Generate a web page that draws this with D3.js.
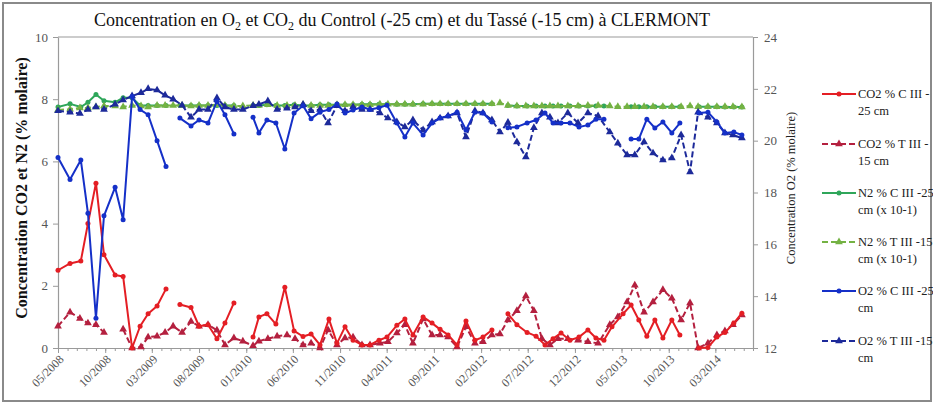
<!DOCTYPE html>
<html>
<head>
<meta charset="utf-8">
<script src="https://cdn.jsdelivr.net/npm/d3@7"></script>
<style>
  body { margin: 0; background: #fff; }
  svg { display: block; }
  text { font-family: "Liberation Serif", "Times New Roman", serif; }
</style>
</head>
<body>
<svg id="chart" width="933" height="403"></svg>
<script>
// ---- Control plot (-25 cm): sampling dates and measured concentrations ----
const datesC = ["2008-05-01","2008-06-09","2008-07-14","2008-08-06","2008-09-01","2008-09-27","2008-11-02","2008-11-28","2008-12-27","2009-01-22",
  "2009-02-17","2009-03-18","2009-04-16","2009-05-09","2009-05-31","2009-07-06","2009-08-01","2009-08-30","2009-09-28","2009-10-24",
  "2009-11-22","2009-12-21","2010-01-23","2010-02-11","2010-03-09","2010-04-07","2010-05-06","2010-06-05","2010-07-04","2010-07-30",
  "2010-08-28","2010-09-26","2010-10-22","2010-11-17","2010-12-13","2011-01-11","2011-02-06","2011-03-07","2011-04-02","2011-05-04",
  "2011-05-30","2011-06-25","2011-07-28","2011-08-26","2011-09-21","2011-10-17","2011-11-15","2011-12-14","2012-01-12","2012-02-07",
  "2012-03-07","2012-04-02","2012-04-28","2012-05-27","2012-06-29","2012-07-28","2012-08-26","2012-09-21","2012-10-17","2012-11-15",
  "2012-12-14","2013-01-12","2013-02-07","2013-03-05","2013-03-31","2013-05-06","2013-06-01","2013-06-26","2013-07-22","2013-08-17",
  "2013-09-12","2013-10-11","2013-11-06","2013-12-09","2014-01-07","2014-02-05","2014-03-06","2014-04-01","2014-04-30","2014-05-26"];
const co2C = [2.5,2.72,2.8,4.0,5.3,3.0,2.35,2.3,0.0,0.7,
  1.1,1.35,1.9,null,1.4,1.3,0.7,0.75,0.3,0.8,
  1.45,null,0.35,1.0,1.1,0.77,1.95,0.55,0.37,0.45,
  0.1,0.93,0.15,0.68,0.25,0.1,0.1,0.25,0.35,0.73,
  0.93,0.42,1.0,0.8,0.6,0.42,0.1,0.87,0.25,0.35,
  0.58,null,1.1,0.75,0.5,0.38,0.1,0.3,0.48,0.25,
  0.35,0.58,0.32,0.25,0.68,1.1,1.38,0.9,0.38,0.9,
  0.32,0.9,0.42,null,0.0,0.02,0.35,0.5,0.8,1.12];
const n2C = [7.75,7.85,7.75,7.9,8.15,7.95,7.9,8.05,8.05,7.8,
  7.8,7.8,7.8,null,7.8,7.8,7.8,7.8,7.8,7.8,
  7.8,null,7.8,7.8,7.82,7.8,7.8,7.82,7.8,7.8,
  7.82,7.82,7.82,7.82,7.82,7.84,7.84,7.84,7.84,7.84,
  7.84,7.84,7.85,7.85,7.85,7.85,7.85,7.85,7.85,7.85,
  7.85,null,7.8,7.78,7.78,7.78,7.78,7.78,7.78,7.78,
  7.78,7.78,7.78,7.78,null,null,7.76,7.76,7.76,7.76,
  7.76,7.76,7.76,null,7.76,7.76,7.76,7.75,7.75,7.75];
const o2C = [19.35,18.5,19.25,17.2,13.15,17.1,18.2,16.95,21.7,21.2,
  21.0,20.0,19.0,null,20.87,20.57,20.8,20.68,21.53,21.0,
  20.26,null,20.9,20.3,20.8,20.68,19.68,21.07,21.35,20.85,
  21.1,21.2,21.41,21.07,21.18,21.3,21.2,21.27,21.37,20.68,
  20.14,20.68,20.22,20.68,20.87,20.95,21.1,20.41,21.1,21.07,
  20.72,null,20.5,20.53,20.68,20.8,21.07,20.68,20.68,20.68,
  20.53,20.6,20.83,20.83,null,null,20.06,20.06,20.83,20.49,
  20.72,20.3,20.68,null,21.07,21.1,20.72,20.3,20.33,20.22];

// ---- Compacted plot (-15 cm) ----
const datesT = ["2008-05-01","2008-06-09","2008-07-11","2008-08-06","2008-09-01","2008-09-27","2008-11-02","2008-11-28","2008-12-27","2009-01-25",
  "2009-02-17","2009-03-18","2009-04-13","2009-05-09","2009-06-07","2009-07-06","2009-08-01","2009-08-30","2009-09-28","2009-10-24",
  "2009-11-22","2009-12-21","2010-01-23","2010-02-11","2010-03-12","2010-04-11","2010-05-13","2010-06-08","2010-07-04","2010-07-30",
  "2010-08-28","2010-09-23","2010-10-22","2010-11-17","2010-12-13","2011-01-11","2011-02-06","2011-03-10","2011-04-05","2011-05-04",
  "2011-05-30","2011-06-25","2011-07-28","2011-08-26","2011-09-21","2011-10-17","2011-11-15","2011-12-14","2012-01-12","2012-02-07",
  "2012-03-07","2012-04-02","2012-04-28","2012-05-27","2012-06-25","2012-07-21","2012-08-16","2012-09-11","2012-10-07","2012-11-08",
  "2012-12-11","2013-01-12","2013-02-14","2013-03-24","2013-04-19","2013-05-19","2013-06-13","2013-07-13","2013-08-11","2013-09-12",
  "2013-10-11","2013-11-10","2013-12-09","2014-01-04","2014-02-05","2014-03-06","2014-04-01","2014-04-27","2014-05-26"];
const co2T = [0.7,1.15,0.95,0.8,0.75,0.5,null,0.6,0.0,0.03,
  0.35,0.38,0.5,0.7,0.5,0.85,0.7,0.75,0.57,0.1,
  0.32,0.22,0.07,0.22,0.3,0.38,0.42,0.3,0.1,0.15,
  0.0,0.58,0.1,0.32,0.35,0.1,0.1,0.15,0.2,0.48,
  0.75,0.15,0.93,0.42,0.42,0.35,0.03,0.68,0.15,0.2,
  0.42,0.45,0.9,1.2,1.67,1.2,0.3,0.1,0.3,0.3,
  0.25,0.2,0.15,0.75,1.0,1.48,2.02,1.15,1.48,1.87,
  1.6,0.9,1.45,0.0,0.15,0.42,0.55,0.75,1.06];
const n2T = [7.65,7.68,7.72,7.72,7.75,7.78,7.78,7.75,7.8,7.78,
  7.75,7.8,7.8,7.8,7.8,7.78,7.8,7.8,7.82,7.8,
  7.78,7.78,7.8,7.8,7.82,7.8,7.8,7.8,7.82,7.8,
  7.8,7.8,7.82,7.82,7.82,7.82,7.82,7.84,7.84,7.84,
  7.84,7.84,7.84,7.85,7.85,7.85,7.85,7.85,7.85,7.85,
  7.85,7.88,7.8,7.78,7.78,7.78,7.78,7.78,7.78,7.78,
  7.78,7.8,7.8,7.78,7.76,7.76,7.76,7.76,7.76,7.76,
  7.76,7.76,7.78,7.76,7.76,7.76,7.76,7.76,7.75];
const o2T = [21.15,21.1,21.05,21.2,21.3,21.2,21.4,21.57,21.72,21.85,
  22.0,21.95,21.75,21.6,21.37,20.9,21.2,21.2,21.65,21.3,
  21.2,21.2,21.35,21.4,21.53,21.2,21.25,21.3,21.4,21.15,
  21.2,20.68,21.35,21.15,21.3,21.2,21.2,21.07,20.87,20.72,
  20.53,20.8,20.41,20.72,20.87,20.95,21.07,20.14,21.15,21.07,
  20.8,20.33,20.7,19.95,19.37,20.5,21.07,20.9,20.68,21.07,
  20.68,21.07,20.95,20.33,19.9,19.45,19.45,19.95,19.52,19.25,
  19.33,20.22,18.79,21.1,20.9,20.68,20.3,20.22,20.1];

// ---- Axis ticks and labels ----
const leftTicks = [0, 2, 4, 6, 8, 10];
const rightTicks = [12, 14, 16, 18, 20, 22, 24];
const xTickLabels = ["05/2008","10/2008","03/2009","08/2009","01/2010","06/2010","11/2010","04/2011",
  "09/2011","02/2012","07/2012","12/2012","05/2013","10/2013","03/2014"];
const xDomain = ["2008-05-01", "2014-07-01"];
const titleParts = [["Concentration en O", false], ["2", true], [" et CO", false], ["2", true],
  [" du Control (-25 cm) et du Tassé (-15 cm) à CLERMONT", false]];
const leftTitle = "Concentration CO2 et N2 (% molaire)";
const rightTitle = "Concentration O2 (% molaire)";
const legendLabels = [
  ["CO2 % C III -", "25 cm"],
  ["CO2 % T III -", "15 cm"],
  ["N2 % C III -25", "cm (x 10-1)"],
  ["N2 % T III -15", "cm (x 10-1)"],
  ["O2 % C III -25", "cm"],
  ["O2 % T III -15", "cm"]
];

// ---- Layout ----
const W = 933, H = 403;
const plot = { left: 58, right: 753, top: 37, bottom: 348 };
const parseDay = d3.utcParse("%Y-%m-%d");
const parseMonth = d3.utcParse("%m/%Y");

const x = d3.scaleUtc().domain(xDomain.map(parseDay)).range([plot.left, plot.right]);
const yL = d3.scaleLinear().domain([0, 10]).range([plot.bottom, plot.top]);
const yR = d3.scaleLinear().domain([12, 24]).range([plot.bottom, plot.top]);

const svg = d3.select("#chart");
const axisGrey = "#9a9a9a";
const serif = '"Liberation Serif", "Times New Roman", serif';

// outer frame of the figure
svg.append("rect")
  .attr("x", 3).attr("y", 3).attr("width", W - 5).attr("height", H - 5)
  .attr("fill", "none").attr("stroke", "#8a8a8a").attr("stroke-width", 2);

// plot area outline (top edge)
svg.append("line")
  .attr("x1", plot.left).attr("x2", plot.right)
  .attr("y1", plot.top).attr("y2", plot.top)
  .attr("stroke", axisGrey).attr("stroke-width", 1.2);

function styleAxis(g, fontSize) {
  g.attr("font-family", serif);
  g.select(".domain").attr("stroke", axisGrey).attr("stroke-width", 1.2);
  g.selectAll(".tick line").attr("stroke", axisGrey);
  g.selectAll(".tick text")
    .attr("fill", "#555")
    .style("font-family", serif)
    .style("font-size", fontSize + "px");
}

// left axis
const gL = svg.append("g")
  .attr("transform", `translate(${plot.left},0)`)
  .call(d3.axisLeft(yL).tickValues(leftTicks).tickSize(5).tickSizeOuter(0).tickPadding(5));
styleAxis(gL, 13);

// right axis
const gR = svg.append("g")
  .attr("transform", `translate(${plot.right},0)`)
  .call(d3.axisRight(yR).tickValues(rightTicks).tickSize(5).tickSizeOuter(0).tickPadding(6));
styleAxis(gR, 13);

// bottom axis: monthly minor ticks, major labelled ticks every five months
const minorDates = d3.utcMonth.range(x.domain()[0], d3.utcDay.offset(x.domain()[1], 1));
const gMinor = svg.append("g")
  .attr("transform", `translate(0,${plot.bottom})`)
  .call(d3.axisBottom(x).tickValues(minorDates).tickSize(3).tickSizeOuter(0).tickFormat(""));
styleAxis(gMinor, 11);

const majorDates = xTickLabels.map(parseMonth);
const gX = svg.append("g")
  .attr("transform", `translate(0,${plot.bottom})`)
  .call(d3.axisBottom(x).tickValues(majorDates).tickSize(5).tickSizeOuter(0)
    .tickFormat((d, i) => xTickLabels[i]));
styleAxis(gX, 12);
gX.select(".domain").remove();
gX.selectAll(".tick text")
  .attr("x", 0).attr("y", 0).attr("dy", "0.35em")
  .attr("transform", "translate(3,9) rotate(-45)")
  .style("text-anchor", "end");

// title with subscripts
const title = svg.append("text")
  .attr("x", 402).attr("y", 26)
  .attr("text-anchor", "middle")
  .style("font-size", "18px")
  .attr("fill", "#111");
titleParts.forEach(([t, sub], i) => {
  const prevSub = i > 0 && titleParts[i - 1][1];
  title.append("tspan")
    .attr("dy", sub ? 4 : (prevSub ? -4 : null))
    .style("font-size", sub ? "12px" : null)
    .text(t);
});

// axis titles
svg.append("text")
  .attr("transform", "translate(27,188) rotate(-90)")
  .attr("text-anchor", "middle")
  .style("font-size", "16px").style("font-weight", "bold")
  .attr("fill", "#111")
  .text(leftTitle);

svg.append("text")
  .attr("transform", "translate(795,188) rotate(-90)")
  .attr("text-anchor", "middle")
  .style("font-size", "12.5px")
  .attr("fill", "#222")
  .text(rightTitle);

// ---- series ----
const tC = datesC.map(parseDay);
const tT = datesT.map(parseDay);
const series = [
  { dates: tC, values: co2C, y: yL, color: "#e41e24", dash: null, marker: "circle" },
  { dates: tT, values: co2T, y: yL, color: "#b4203f", dash: "6,3", marker: "triangle" },
  { dates: tC, values: n2C, y: yL, color: "#2fa65a", dash: null, marker: "circle" },
  { dates: tT, values: n2T, y: yL, color: "#74b243", dash: "6,3", marker: "triangle" },
  { dates: tC, values: o2C, y: yR, color: "#1530c8", dash: null, marker: "circle" },
  { dates: tT, values: o2T, y: yR, color: "#1d2a9a", dash: "6,3", marker: "triangle" }
];

const triangle = d3.symbol().type(d3.symbolTriangle).size(26);

// draw order: N2, then CO2, then O2 on top
const order = [2, 3, 1, 0, 5, 4];
order.forEach(k => {
  const s = series[k];
  const pts = s.dates.map((d, i) => ({ d, v: s.values[i] }));
  const line = d3.line()
    .defined(p => p.v != null)
    .x(p => x(p.d))
    .y(p => s.y(p.v));
  const g = svg.append("g");
  g.append("path")
    .datum(pts)
    .attr("d", line)
    .attr("fill", "none")
    .attr("stroke", s.color)
    .attr("stroke-width", 2)
    .attr("stroke-linejoin", "round")
    .attr("stroke-dasharray", s.dash);
  const valid = pts.filter(p => p.v != null);
  if (s.marker === "circle") {
    g.selectAll("circle").data(valid).join("circle")
      .attr("cx", p => x(p.d)).attr("cy", p => s.y(p.v))
      .attr("r", 2.5).attr("fill", s.color);
  } else {
    g.selectAll("path.m").data(valid).join("path")
      .attr("class", "m")
      .attr("d", triangle)
      .attr("transform", p => `translate(${x(p.d)},${s.y(p.v)})`)
      .attr("fill", s.color);
  }
});

// ---- legend ----
const legendRows = [94, 144, 193, 242, 291, 341];
legendLabels.forEach((lab, i) => {
  const s = series[i];
  const y0 = legendRows[i];
  const g = svg.append("g");
  g.append("line")
    .attr("x1", 822).attr("x2", 856).attr("y1", y0).attr("y2", y0)
    .attr("stroke", s.color).attr("stroke-width", 2)
    .attr("stroke-dasharray", s.dash);
  if (s.marker === "circle") {
    g.append("circle").attr("cx", 839).attr("cy", y0).attr("r", 2.5).attr("fill", s.color);
  } else {
    g.append("path").attr("d", triangle).attr("transform", `translate(839,${y0})`).attr("fill", s.color);
  }
  const t = g.append("text").attr("x", 858).attr("y", y0 + 4)
    .style("font-size", "12.5px").attr("fill", "#222");
  t.append("tspan").attr("x", 858).text(lab[0]);
  t.append("tspan").attr("x", 858).attr("dy", 17).text(lab[1]);
});
</script>
</body>
</html>
